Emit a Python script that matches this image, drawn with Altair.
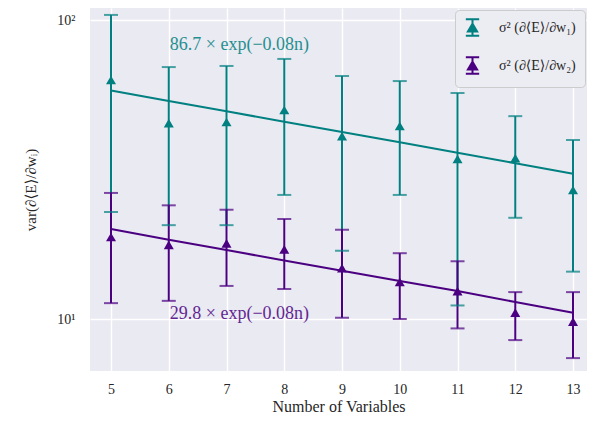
import altair as alt
import pandas as pd

# ---------------- data ----------------
n_vars = [5, 6, 7, 8, 9, 10, 11, 12, 13]

w1_mean = [63.0, 45.2, 45.6, 50.0, 40.9, 44.2, 34.3, 34.5, 27.0]
w1_upper = [104.0, 69.6, 70.2, 74.1, 65.0, 62.5, 57.0, 47.7, 39.7]
w1_lower = [22.8, 20.6, 20.6, 26.0, 16.9, 26.0, 11.1, 21.8, 14.4]
w1_fit = [58.1, 53.6, 49.5, 45.7, 42.2, 39.0, 36.0, 33.2, 30.6]

w2_mean = [18.8, 17.7, 17.9, 17.1, 14.8, 13.3, 12.4, 10.5, 9.8]
w2_upper = [26.4, 24.0, 23.2, 21.6, 19.9, 16.6, 15.6, 12.3, 12.3]
w2_lower = [11.3, 11.5, 12.9, 12.6, 10.1, 10.0, 9.3, 8.5, 7.4]
w2_fit = [20.0, 18.4, 17.0, 15.7, 14.5, 13.4, 12.4, 11.4, 10.5]

series_keys = ["w1", "w2"]
series_labels = ["σ² (∂⟨E⟩/∂w₁)", "σ² (∂⟨E⟩/∂w₂)"]
series_colors = ["#008080", "#4b0082"]

fit_texts = ["86.7 × exp(−0.08n)", "29.8 × exp(−0.08n)"]
fit_text_x = [6, 6]
fit_text_y = [82.5, 10.4]

y_ticks = [10, 100]
FONT = "Liberation Serif, DejaVu Serif, serif"

# ---------------- tables ----------------
rows = []
for key, m, lo, hi, f in [("w1", w1_mean, w1_lower, w1_upper, w1_fit),
                          ("w2", w2_mean, w2_lower, w2_upper, w2_fit)]:
    for i, n in enumerate(n_vars):
        rows.append({"series": key, "n": n, "mean": m[i], "lo": lo[i], "hi": hi[i], "fit": f[i]})
df = pd.DataFrame(rows)

ann = pd.DataFrame({"series": series_keys, "x": fit_text_x, "y": fit_text_y, "text": fit_texts})

leg = pd.DataFrame({"label": series_labels, "n": [100, 100], "v": [20, 20]})

xscale = alt.Scale(domain=[4.636, 13.242], nice=False, zero=False)
yscale = alt.Scale(type="log", domain=[6.70, 109.7], nice=False)
cscale = alt.Scale(domain=series_keys, range=series_colors)

X = alt.X("n:Q", scale=xscale,
          axis=alt.Axis(values=n_vars, format="d", title="Number of Variables",
                        labelPadding=11, titlePadding=2, grid=True))
Y_AX = alt.Axis(values=y_ticks, labelExpr="datum.value >= 50 ? '10²' : '10¹'",
                title="var(∂⟨E⟩/∂wᵢ)", labelPadding=15, titlePadding=18, grid=True)
C = alt.Color("series:N", scale=cscale, legend=None)

base = alt.Chart(df)

bars = base.mark_rule(strokeWidth=2).encode(
    x=X, y=alt.Y("lo:Q", scale=yscale, axis=Y_AX), y2="hi:Q", color=C)
cap_hi = base.mark_tick(orient="horizontal", size=14, thickness=2).encode(
    x="n:Q", y=alt.Y("hi:Q", scale=yscale), color=C)
cap_lo = base.mark_tick(orient="horizontal", size=14, thickness=2).encode(
    x="n:Q", y=alt.Y("lo:Q", scale=yscale), color=C)
pts = base.mark_point(shape="triangle-up", filled=True, size=100, opacity=1).encode(
    x="n:Q", y=alt.Y("mean:Q", scale=yscale), color=C)
fit = base.mark_line(strokeWidth=2).encode(
    x="n:Q", y=alt.Y("fit:Q", scale=yscale), color=C, detail="series:N")
txt = alt.Chart(ann).mark_text(font=FONT, fontSize=18, align="left", baseline="middle",
                               dx=1, opacity=0.85).encode(
    x="x:Q", y=alt.Y("y:Q", scale=yscale), text="text:N", color=C)

LEG_PATH = "M-0.9,-1.1H0.9M0,-1.1V1.1M-0.9,1.1H0.9M-0.62,0.55L0,-0.5L0.62,0.55Z"
lscale_f = alt.Scale(domain=series_labels, range=series_colors)
legend_layer = alt.Chart(leg).mark_point(shape=LEG_PATH, filled=True, strokeWidth=2,
                                         clip=True, opacity=1).encode(
    x="n:Q", y=alt.Y("v:Q", scale=yscale),
    fill=alt.Fill("label:N", scale=lscale_f,
                  legend=alt.Legend(title=None, orient="top-right", offset=2,
                                    symbolType=LEG_PATH, symbolSize=220, symbolStrokeWidth=2,
                                    labelFont=FONT, labelFontSize=14, labelColor="#262626",
                                    labelOffset=18, rowPadding=13, padding=9,
                                    fillColor="#ececf3", strokeColor="#cccccc",
                                    cornerRadius=4, symbolOpacity=1)),
    stroke=alt.Stroke("label:N", scale=lscale_f, legend=None),
)

chart = alt.layer(bars, cap_hi, cap_lo, fit, pts, txt, legend_layer).resolve_scale(
    color="shared").properties(
    width=497, height=363,
    padding={"left": 82, "top": 0, "right": 0, "bottom": 45},
    autosize=alt.AutoSizeParams(type="none"),
).configure_view(fill="#eaeaf2", stroke=None).configure_axis(
    domain=False, ticks=False, tickSize=0, gridColor="white", gridWidth=1.4, gridOpacity=1,
    labelFont=FONT, labelFontSize=14, labelColor="#262626",
    titleFont=FONT, titleFontSize=16, titleFontWeight="normal", titleColor="#262626",
).configure_axisY(titleFontSize=15)

chart.save("out.html", embed_options={"renderer": "svg", "actions": False})
